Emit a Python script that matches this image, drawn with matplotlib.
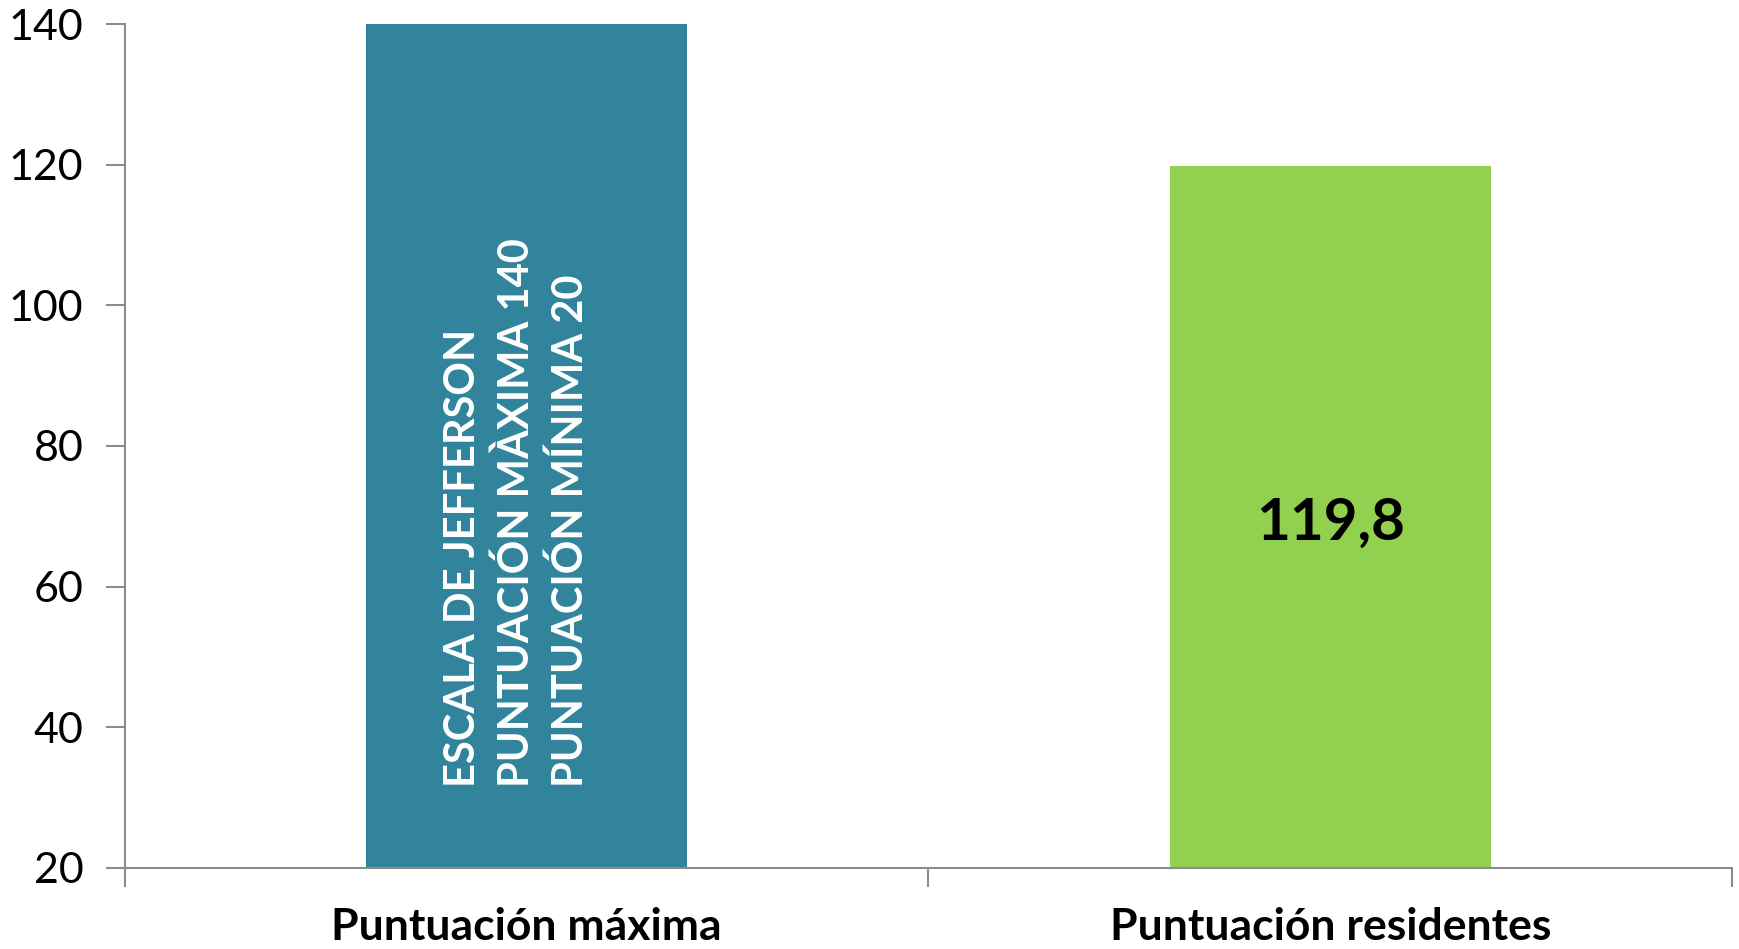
import matplotlib.pyplot as plt

# datos
categorias = ['Puntuación máxima', 'Puntuación residentes']
valores = [140, 119.8]
colores = ['#31849B', '#92D050']
etiqueta_valor = '119,8'
texto_escala = 'ESCALA DE JEFFERSON\nPUNTUACIÓN MÀXIMA 140\nPUNTUACIÓN MÍNIMA 20'
y_ticks = [20, 40, 60, 80, 100, 120, 140]

plt.rcParams['font.family'] = ['Lato', 'DejaVu Sans']

fig = plt.figure(figsize=(17.4, 9.49), dpi=100)
ax = fig.add_axes([0.0718, 0.0854, 0.9236, 0.8893])

x = list(range(len(categorias)))
ax.bar(x, [v - 20 for v in valores], bottom=20, width=0.4, color=colores)

ax.set_xlim(-0.5, 1.5)
ax.set_ylim(20, 140)
ax.set_yticks(y_ticks)
ax.tick_params(axis='y', labelsize=31, length=14, width=1.5, color='#8c8c8c', pad=16)

ax.set_xticks(x)
ax.set_xticklabels(categorias, fontsize=32, fontweight='bold')
ax.tick_params(axis='x', which='major', length=0, pad=28)
ax.set_xticks([-0.5, 0.5, 1.5], minor=True)
ax.tick_params(axis='x', which='minor', length=14, width=1.5, color='#8c8c8c')

for lado in ['top', 'right']:
    ax.spines[lado].set_visible(False)
for lado in ['left', 'bottom']:
    ax.spines[lado].set_color('#8c8c8c')
    ax.spines[lado].set_linewidth(1.5)

# texto dentro de las barras
ax.text(x[0] - 0.012, 70.5, texto_escala, rotation=90, ha='center', va='center',
        multialignment='left', color='white', fontsize=30, fontweight='bold', linespacing=1.45)
ax.text(x[1], 69, etiqueta_valor, ha='center', va='center',
        color='black', fontsize=42, fontweight='bold')

fig.savefig('out.png', dpi=100)
